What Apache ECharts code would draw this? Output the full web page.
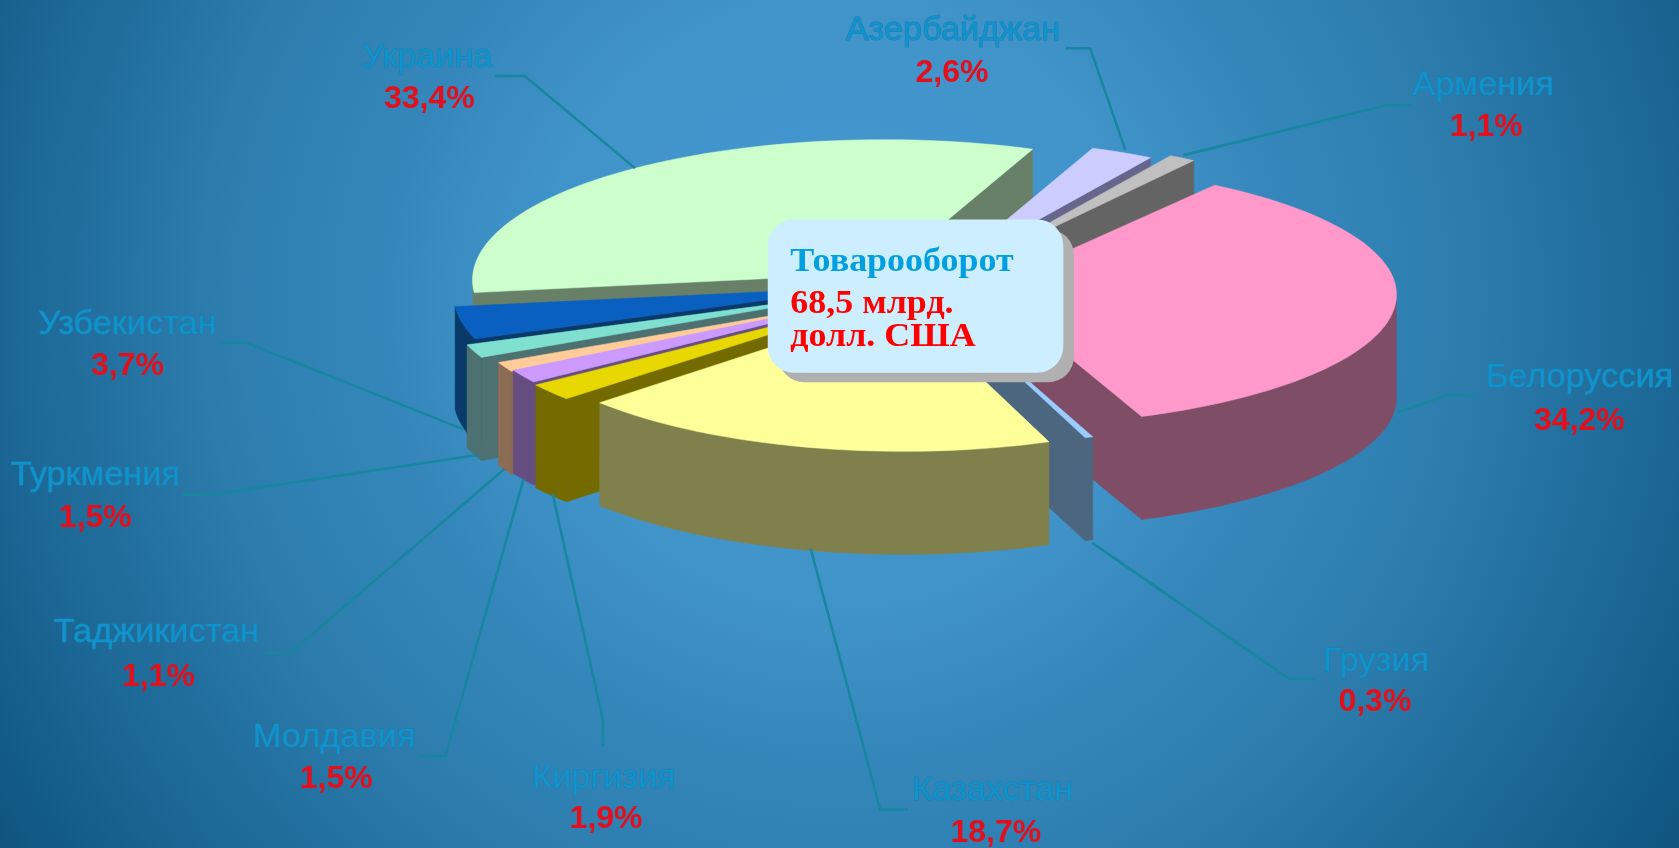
<!DOCTYPE html>
<html>
<head>
<meta charset="utf-8">
<title>Товарооборот</title>
<script src="https://cdn.jsdelivr.net/npm/echarts@6/dist/echarts.min.js"></script>
<style>
    html, body { margin: 0; padding: 0; height: 100%; overflow: hidden; }
    #chart { width: 1679px; height: 848px; }
</style>
</head>
<body>
<div id="chart"></div>
<script>
// Данные
const countries = ["Украина", "Азербайджан", "Армения", "Белоруссия", "Грузия", "Казахстан", "Киргизия", "Молдавия", "Таджикистан", "Туркмения", "Узбекистан"];
const shares = [33.4, 2.6, 1.1, 34.2, 0.3, 18.7, 1.9, 1.5, 1.1, 1.5, 3.7];
const shareLabels = ["33,4%", "2,6%", "1,1%", "34,2%", "0,3%", "18,7%", "1,9%", "1,5%", "1,1%", "1,5%", "3,7%"];

// Цвета: верх и боковая стенка
const topColors = ["#ccffcc", "#ccccff", "#c0c0c0", "#ff99cc", "#99ccff", "#ffff99", "#e6d800", "#cc99ff", "#ffcc99", "#80e0d0", "#0a60c0"];
const wallColors = ["#688068", "#66668c", "#646464", "#804d66", "#4d6680", "#80804d", "#736b00", "#664d80", "#8c6c55", "#4d7070", "#0a3a6a"];

// Разнос секторов от центра, поправка радиуса, порядок отрисовки (сзади вперед)
const explodeX = [-16, 44, 64, 85, 36, 3.5, -22, -24, -26, -43, -35];
const explodeY = [-12, -13, -15, 3, 15, 19, 15, 12, 13, 8, 2];
const radiusScaleX = [1, 1, 1, 1, 1, 0.975, 1, 1, 1, 1, 1];
const radiusScaleY = [1, 1, 1, 0.94, 1, 1, 1, 1, 1, 1, 1];
const paintOrder = [0, 1, 2, 3, 4, 10, 9, 8, 7, 6, 5];

// Геометрия
const CX = 900, CY = 285, RX = 411, RY = 140, PERSP = 0.05, DEPTH = 103, START = -98;

// Подписи и выноски, координаты в масштабе картинки 1568
const S = 1679 / 1568;
const namePos = [[399, 54], [890, 29], [1385, 80], [1475, 353], [1285, 618], [927, 739], [564, 727], [312, 689], [146, 591], [89, 444], [119, 303]];
const valuePos = [[401, 93], [889, 68], [1388, 119], [1475, 393], [1284, 656], [930, 778], [566, 765], [314, 728], [148, 632], [89, 484], [119, 342]];
const leaders = [
    [[462, 71], [490, 71], [593, 157]],
    [[995, 45], [1018, 45], [1051, 140]],
    [[1318, 98], [1295, 98], [1105, 145]],
    [[1380, 369], [1352, 369], [1305, 385]],
    [[1228, 634], [1204, 634], [1020, 507]],
    [[848, 756], [822, 756], [757, 512]],
    [[563, 697], [563, 672], [516, 461]],
    [[391, 706], [416, 706], [489, 447]],
    [[247, 610], [271, 610], [471, 438]],
    [[170, 462], [197, 462], [446, 425]],
    [[204, 320], [230, 320], [433, 401]]
];

function rimPoint(i, ox, oy, deg) {
    const t = deg * Math.PI / 180;
    const z = -Math.cos(t);
    const s = 1 / (1 - PERSP * z);
    return [ox + RX * radiusScaleX[i] * Math.sin(t) * s, oy + RY * radiusScaleY[i] * z * s];
}

function down(p) {
    return [p[0], p[1] + DEPTH];
}

function renderSlice(params, api) {
    const share = api.value(0);
    const from = api.value(1);
    const i = api.value(2);
    const to = from + share * 3.6;
    const ox = CX + explodeX[i];
    const oy = CY + explodeY[i];
    const order = paintOrder.indexOf(i) * 10;

    const rim = [];
    const steps = Math.max(2, Math.ceil((to - from) / 2));
    for (let s = 0; s <= steps; s++) {
        rim.push(rimPoint(i, ox, oy, from + (to - from) * s / steps));
    }

    const children = [];
    const wallStyle = { fill: wallColors[i], stroke: wallColors[i], lineWidth: 0.5 };
    const apex = [ox, oy];

    // радиальные стенки
    if (Math.sin(from * Math.PI / 180) < 0) {
        const a = rim[0];
        children.push({ type: "polygon", z2: order, shape: { points: [apex, a, down(a), down(apex)] }, style: wallStyle });
    }
    if (Math.sin(to * Math.PI / 180) > 0) {
        const b = rim[rim.length - 1];
        children.push({ type: "polygon", z2: order, shape: { points: [apex, b, down(b), down(apex)] }, style: wallStyle });
    }

    // внешняя стенка, только передняя часть дуги
    const front = [];
    for (let s = 0; s <= steps; s++) {
        const d = from + (to - from) * s / steps;
        if (Math.cos(d * Math.PI / 180) <= 0) front.push(rim[s]);
    }
    if (front.length > 1) {
        const pts = front.concat(front.slice().reverse().map(down));
        children.push({ type: "polygon", z2: order + 1, shape: { points: pts }, style: wallStyle });
    }

    // верх
    children.push({
        type: "polygon",
        z2: order + 2,
        shape: { points: [apex].concat(rim) },
        style: { fill: topColors[i], stroke: topColors[i], lineWidth: 0.5 }
    });

    return { type: "group", children: children };
}

let running = START;
const sliceData = shares.map((v, i) => {
    const row = [v, running, i];
    running += v * 3.6;
    return row;
});

const graphics = [];

leaders.forEach(line => {
    graphics.push({
        type: "polyline",
        z: 10,
        silent: true,
        shape: { points: line.map(p => [p[0] * S, p[1] * S]) },
        style: { stroke: "#17869f", lineWidth: 2.5, fill: null }
    });
});

countries.forEach((name, i) => {
    graphics.push({
        type: "text",
        z: 11,
        silent: true,
        x: namePos[i][0] * S,
        y: namePos[i][1] * S,
        scaleX: 1.04,
        style: {
            text: name,
            align: "center",
            verticalAlign: "middle",
            font: "33px 'Liberation Sans'",
            fill: "#0f93cf",
            stroke: "#1f7fa8",
            lineWidth: 1
        }
    });
    graphics.push({
        type: "text",
        z: 11,
        silent: true,
        style: {
            text: shareLabels[i],
            x: valuePos[i][0] * S,
            y: valuePos[i][1] * S,
            align: "center",
            verticalAlign: "middle",
            font: "bold 32px 'Liberation Sans'",
            fill: "#e2101c"
        }
    });
});

// Плашка в центре
graphics.push({
    type: "rect", z: 12, silent: true,
    shape: { x: 727 * S, y: 214 * S, width: 276 * S, height: 143 * S, r: 26 },
    style: { fill: "#b0b0b0" }
});
graphics.push({
    type: "rect", z: 13, silent: true,
    shape: { x: 717 * S, y: 205 * S, width: 276 * S, height: 143 * S, r: 26 },
    style: { fill: "#cceeff" }
});
const boxLines = [["Товарооборот", "#009fdf", 245], ["68,5 млрд.", "#ff0000", 284], ["долл. США", "#ff0000", 315]];
boxLines.forEach(b => {
    graphics.push({
        type: "text", z: 14, silent: true,
        x: 738 * S,
        y: b[2] * S,
        scaleX: 1.09,
        style: {
            text: b[0],
            align: "left",
            verticalAlign: "middle",
            font: "bold 33px 'Liberation Serif'",
            fill: b[1]
        }
    });
});

const chart = echarts.init(document.getElementById("chart"));

chart.setOption({
    animation: false,
    backgroundColor: {
        type: "radial",
        x: 840, y: 300, r: 1000,
        global: true,
        colorStops: [
            { offset: 0, color: "#4598d0" },
            { offset: 0.3, color: "#4194ca" },
            { offset: 0.45, color: "#3587bb" },
            { offset: 0.6, color: "#2e7fb0" },
            { offset: 0.85, color: "#1a6593" },
            { offset: 1, color: "#0f5580" }
        ]
    },
    series: [{
        type: "custom",
        coordinateSystem: "none",
        silent: true,
        renderItem: renderSlice,
        data: sliceData
    }],
    graphic: { elements: graphics }
});
</script>
</body>
</html>
